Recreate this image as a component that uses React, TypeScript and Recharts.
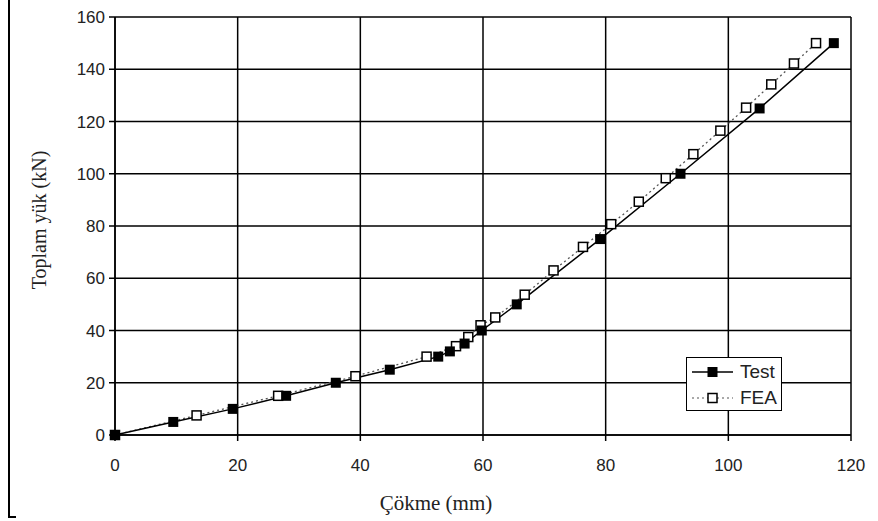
import React from "react";
import { LineChart, Line, XAxis, YAxis, CartesianGrid, Legend } from "recharts";

const testX = [0, 9.5, 19.2, 27.9, 36, 44.8, 52.7, 54.6, 57, 59.8, 65.5, 79.1, 92.2, 105.1, 117.2];
const testY = [0, 5, 10, 15, 20, 25, 30, 32, 35, 40, 50, 75, 100, 125, 150];
const feaX = [0, 13.3, 26.6, 39.2, 50.8, 55.6, 57.6, 59.6, 62, 66.8, 71.5, 76.3, 80.9, 85.4, 89.8, 94.3, 98.7, 102.9, 107, 110.7, 114.3];
const feaY = [0, 7.5, 15, 22.5, 30, 34, 37.5, 42, 45, 53.7, 63, 72, 80.7, 89.3, 98.3, 107.5, 116.5, 125.3, 134.2, 142.2, 150];
const xTicks = [0, 20, 40, 60, 80, 100, 120];
const yTicks = [0, 20, 40, 60, 80, 100, 120, 140, 160];
const seriesNames = ["Test", "FEA"];
const xTitle = "Çökme (mm)";
const yTitle = "Toplam yük (kN)";

const testData = testX.map((x, i) => ({ x, y: testY[i] }));
const feaData = feaX.map((x, i) => ({ x, y: feaY[i] }));

const FilledSquare = (props: any) => {
  const { cx, cy, index } = props;
  if (cx == null || cy == null) return <g key={`t${index}`} />;
  return <rect key={`t${index}`} x={cx - 5} y={cy - 5} width={10} height={10} fill="#000" />;
};
const OpenSquare = (props: any) => {
  const { cx, cy, index } = props;
  if (cx == null || cy == null) return <g key={`f${index}`} />;
  return (
    <rect key={`f${index}`} x={cx - 4.5} y={cy - 4.5} width={9} height={9} fill="#fff" stroke="#000" strokeWidth={1.5} />
  );
};

const YTitle = () => (
  <text
    x={39}
    y={220}
    transform="rotate(-90 39 220)"
    textAnchor="middle"
    dominantBaseline="central"
    fontFamily="'Liberation Serif', 'Times New Roman', serif"
    fontSize={20}
    fill="#222"
  >
    {yTitle}
  </text>
);
const XTitle = () => (
  <text
    x={436}
    y={510}
    textAnchor="middle"
    fontFamily="'Liberation Serif', 'Times New Roman', serif"
    fontSize={21}
    fill="#222"
  >
    {xTitle}
  </text>
);

const LegendBox = () => (
  <div
    style={{
      width: 94,
      height: 52,
      border: "1.5px solid #000",
      background: "#fff",
      fontFamily: "'Liberation Sans', Arial, sans-serif",
      fontSize: 19,
      color: "#222",
      boxSizing: "content-box",
    }}
  >
    <div style={{ display: "flex", alignItems: "center", height: 26, marginTop: 1 }}>
      <svg width={48} height={14} style={{ marginLeft: 3 }}>
        <line x1={2} y1={7} x2={43} y2={7} stroke="#000" strokeWidth={1.5} />
        <rect x={17.5} y={2} width={10} height={10} fill="#000" />
      </svg>
      <span style={{ marginLeft: 2 }}>{seriesNames[0]}</span>
    </div>
    <div style={{ display: "flex", alignItems: "center", height: 26 }}>
      <svg width={48} height={14} style={{ marginLeft: 3 }}>
        <line x1={2} y1={7} x2={43} y2={7} stroke="#555" strokeWidth={1.2} strokeDasharray="2 3" />
        <rect x={18} y={2.5} width={9} height={9} fill="#fff" stroke="#000" strokeWidth={1.5} />
      </svg>
      <span style={{ marginLeft: 2 }}>{seriesNames[1]}</span>
    </div>
  </div>
);

export default function App() {
  return (
    <div style={{ position: "absolute", left: 0, top: 0, width: 878, height: 521, background: "#fff" }}>
      <div
        style={{
          position: "absolute",
          left: 8,
          top: 0,
          width: 6,
          height: 516,
          borderLeft: "2px solid #000",
          borderBottom: "2px solid #000",
        }}
      />
      <LineChart width={878} height={521} margin={{ top: 17, right: 27, bottom: 6, left: 0 }}>
        <CartesianGrid stroke="#000" strokeWidth={1.5} />
        <XAxis
          dataKey="x"
          type="number"
          domain={[0, 120]}
          ticks={xTicks}
          height={80}
          tickSize={6}
          tickMargin={18}
          stroke="#000"
          strokeWidth={1.5}
          tick={{ fill: "#222", fontSize: 17, fontFamily: "'Liberation Sans', Arial, sans-serif" }}
          label={<XTitle />}
        />
        <YAxis
          dataKey="y"
          type="number"
          domain={[0, 160]}
          ticks={yTicks}
          width={115}
          tickSize={6}
          tickMargin={4}
          stroke="#000"
          strokeWidth={1.5}
          tick={{ fill: "#222", fontSize: 17, fontFamily: "'Liberation Sans', Arial, sans-serif" }}
          label={<YTitle />}
        />
        <Legend
          layout="vertical"
          align="center"
          verticalAlign="middle"
          content={<LegendBox />}
          wrapperStyle={{ position: "absolute", left: 686, top: 357, width: 97, height: 55 }}
        />
        <Line
          data={feaData}
          dataKey="y"
          name={seriesNames[1]}
          type="linear"
          stroke="#555"
          strokeWidth={1.3}
          strokeDasharray="2 3"
          dot={OpenSquare}
          activeDot={false}
          isAnimationActive={false}
        />
        <Line
          data={testData}
          dataKey="y"
          name={seriesNames[0]}
          type="linear"
          stroke="#000"
          strokeWidth={1.5}
          dot={FilledSquare}
          activeDot={false}
          isAnimationActive={false}
        />
      </LineChart>
    </div>
  );
}
